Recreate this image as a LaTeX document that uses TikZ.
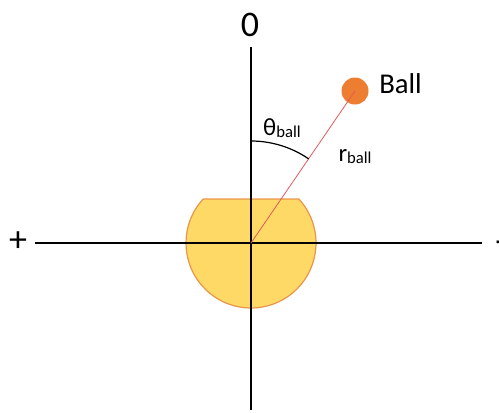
\documentclass[tikz,border=0pt]{standalone}
\usepackage{fontspec}
\setmainfont{Carlito}
\usetikzlibrary{calc}

\definecolor{ballorange}{HTML}{ED7D31}
\definecolor{bodyfill}{HTML}{FFD966}
\definecolor{bodyedge}{HTML}{E8964A}
\definecolor{rayred}{HTML}{E05A5A}

\tikzset{
    biglabel/.style={font=\fontsize{27}{30}\selectfont, inner sep=0pt},
    midlabel/.style={font=\fontsize{18.5}{22}\selectfont, inner sep=0pt},
}
\newcommand{\subball}{\raisebox{-1.5pt}{\fontsize{12.5}{14}\selectfont ball}}

\begin{document}
\begin{tikzpicture}[x=0.75pt, y=0.75pt]

    \useasboundingbox (-251,-169) rectangle (248,243);

    \pgfmathsetmacro{\rad}{65}
    \pgfmathsetmacro{\chord}{44}
    \pgfmathsetmacro{\ang}{asin(\chord/\rad)}

    \coordinate (O) at (0,0);

    % 本体（上を切った円）
    \filldraw[fill=bodyfill, draw=bodyedge, line width=0.9pt]
        (\ang:\rad) arc[start angle=\ang, end angle={-180-\ang}, radius=\rad] -- cycle;

    % 座標軸
    \draw[line width=0.9pt] (-216,0) coordinate (xl) -- (231,0) coordinate (xr);
    \draw[line width=0.9pt] (0,-167) coordinate (yb) -- (0,196) coordinate (yt);
    \node[biglabel] (zero) at (-1,218) {0};
    \node[biglabel] (plus) at (-233,1) {+};
    \node[biglabel, anchor=west] (minus) at (244,-4) {-};

    % ボール
    \node[circle, fill=ballorange, minimum size=27pt*0.75, inner sep=0pt] (ball) at (104,152) {};
    \node[midlabel, font=\fontsize{21.5}{25}\selectfont, anchor=west] (balltxt) at (128,159) {Ball};

    % r_ball
    \draw[rayred, line width=0.6pt] (O) -- (ball.center);
    \node[midlabel] (rlabel) at (104,86) {r\subball};

    % θ_ball
    \draw[line width=0.9pt] (0,102) arc[start angle=90, end angle=55.6, radius=102];
    \node[midlabel] (thlabel) at (31,115) {θ\subball};

\end{tikzpicture}
\end{document}
